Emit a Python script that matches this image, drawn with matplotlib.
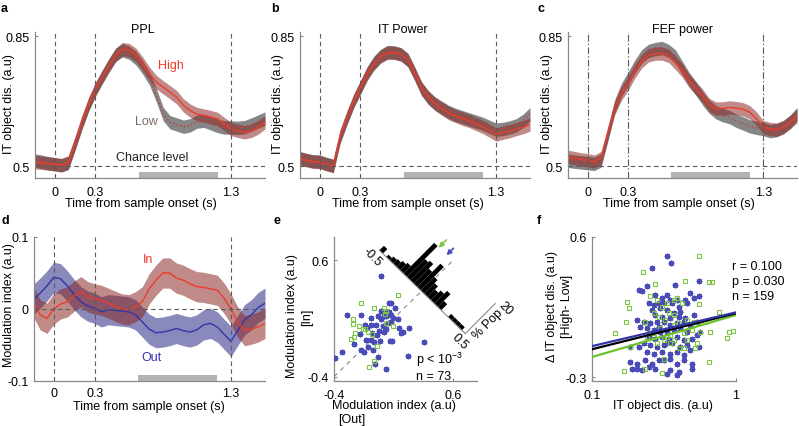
import numpy as np
import matplotlib
matplotlib.use("Agg")
import matplotlib.pyplot as plt
from matplotlib.transforms import Affine2D

plt.rcParams['font.family'] = ['Liberation Sans', 'DejaVu Sans']
plt.rcParams['font.size'] = 9
plt.rcParams['mathtext.fontset'] = 'custom'
plt.rcParams['mathtext.rm'] = 'Liberation Sans'
plt.rcParams['mathtext.default'] = 'rm'

# ---------------- data ----------------
time = np.round(np.arange(-0.15, 1.5501, 0.05), 2)
events = [0.0, 0.3, 1.3]
sig_window = [0.62, 1.20]
chance = 0.5

ppl_high = [0.511, 0.509, 0.507, 0.505, 0.503, 0.510, 0.562, 0.618, 0.667, 0.708, 0.739, 0.770,
            0.799, 0.815, 0.812, 0.799, 0.775, 0.748, 0.726, 0.712, 0.699, 0.685, 0.663, 0.649,
            0.640, 0.636, 0.632, 0.627, 0.613, 0.600, 0.595, 0.591, 0.595, 0.604, 0.618]
ppl_low = [0.515, 0.512, 0.508, 0.505, 0.502, 0.508, 0.560, 0.615, 0.665, 0.705, 0.740, 0.772,
           0.800, 0.812, 0.805, 0.790, 0.765, 0.735, 0.690, 0.640, 0.618, 0.612, 0.606, 0.610,
           0.620, 0.622, 0.615, 0.608, 0.604, 0.604, 0.603, 0.605, 0.612, 0.620, 0.628]
itp_high = [0.520, 0.516, 0.512, 0.511, 0.505, 0.500, 0.580, 0.630, 0.675, 0.711, 0.748, 0.776,
            0.795, 0.805, 0.805, 0.800, 0.786, 0.750, 0.710, 0.686, 0.668, 0.655, 0.643, 0.635,
            0.628, 0.622, 0.614, 0.606, 0.596, 0.585, 0.590, 0.594, 0.600, 0.605, 0.612]
itp_low = [0.522, 0.517, 0.513, 0.512, 0.506, 0.501, 0.578, 0.628, 0.674, 0.712, 0.750, 0.778,
           0.797, 0.807, 0.806, 0.801, 0.785, 0.748, 0.708, 0.684, 0.668, 0.657, 0.646, 0.638,
           0.632, 0.626, 0.620, 0.614, 0.606, 0.598, 0.600, 0.604, 0.610, 0.622, 0.640]
fef_high = [0.525, 0.522, 0.518, 0.516, 0.512, 0.522, 0.590, 0.655, 0.695, 0.722, 0.755, 0.782,
            0.798, 0.803, 0.803, 0.797, 0.778, 0.758, 0.730, 0.710, 0.690, 0.665, 0.655, 0.655,
            0.658, 0.656, 0.653, 0.645, 0.628, 0.605, 0.600, 0.598, 0.605, 0.618, 0.635]
fef_low = [0.515, 0.512, 0.510, 0.508, 0.506, 0.515, 0.585, 0.660, 0.705, 0.735, 0.768, 0.795,
           0.810, 0.815, 0.818, 0.810, 0.795, 0.765, 0.735, 0.710, 0.683, 0.660, 0.645, 0.637,
           0.632, 0.622, 0.615, 0.607, 0.603, 0.600, 0.594, 0.597, 0.605, 0.620, 0.640]
sem_dis = 0.018

mod_in = [0.010, -0.008, -0.013, 0.000, 0.007, 0.010, 0.018, 0.024, 0.017, 0.014, 0.012, 0.008,
          0.004, 0.000, -0.001, 0.003, 0.010, 0.028, 0.040, 0.050, 0.050, 0.043, 0.040, 0.035,
          0.031, 0.030, 0.028, 0.026, 0.015, 0.000, -0.018, -0.030, -0.028, -0.025, -0.020]
mod_out = [0.013, 0.022, 0.032, 0.044, 0.042, 0.032, 0.020, 0.010, 0.004, 0.001, -0.004, -0.001,
           -0.002, -0.003, -0.004, -0.008, -0.018, -0.028, -0.033, -0.032, -0.030, -0.027, -0.030,
           -0.032, -0.029, -0.022, -0.020, -0.025, -0.035, -0.045, -0.030, -0.015, -0.008, 0.002, 0.008]
sem_mod = 0.021

# panel e: modulation index [Out] vs [In]
e_blue = [(-0.008, 0.465), (-0.394, -0.237), (-0.333, -0.190), (-0.288, 0.127), (-0.170, 0.127),
          (-0.092, 0.107), (-0.140, 0.041), (-0.182, -0.030), (-0.176, -0.174), (-0.148, -0.188),
          (-0.134, -0.088), (-0.078, -0.022), (-0.064, -0.102), (-0.050, 0.041), (-0.008, 0.164),
          (-0.008, 0.093), (0.015, 0.036), (0.034, 0.121), (0.062, 0.236), (0.082, 0.236),
          (0.062, 0.156), (0.043, 0.156), (0.082, 0.127), (0.110, 0.193), (0.141, 0.099),
          (0.099, 0.107), (0.076, 0.070), (0.034, 0.013), (-0.022, -0.007), (-0.041, -0.044),
          (-0.086, -0.088), (-0.111, -0.142), (-0.069, -0.171), (-0.120, 0.021), (-0.027, -0.231),
          (-0.055, -0.288), (0.020, -0.016), (0.071, -0.093), (0.090, -0.093), (0.160, -0.022),
          (0.183, -0.016), (0.230, 0.021), (0.146, 0.021), (0.054, 0.058), (0.356, -0.102),
          (0.222, -0.222), (0.040, -0.331), (-0.013, -0.093), (0.020, 0.121), (-0.086, 0.045),
          (-0.027, 0.121), (-0.232, -0.122)]
e_green = [(0.138, 0.302), (-0.176, 0.236), (-0.064, 0.193), (0.020, 0.187), (0.034, 0.164),
           (0.029, 0.136), (-0.238, 0.093), (-0.240, 0.050), (-0.190, 0.036), (-0.154, 0.013),
           (-0.142, 0.007), (-0.226, -0.022), (-0.232, -0.059), (-0.254, -0.079), (-0.114, -0.016),
           (-0.078, -0.036), (-0.036, -0.136), (-0.064, -0.265), (-0.106, -0.317), (0.034, 0.064),
           (0.099, 0.036)]
e_blue_out, e_blue_in = zip(*e_blue)
e_green_out, e_green_in = zip(*e_green)

hist_centers = [-0.48, -0.44, -0.40, -0.36, -0.32, -0.28, -0.24, -0.20, -0.16, -0.12, -0.08, -0.04,
                0.00, 0.04, 0.08, 0.12, 0.16, 0.20, 0.24, 0.28, 0.32, 0.36, 0.40, 0.44, 0.48]
hist_pct = [3.0, 0.0, 1.5, 2.5, 3.0, 4.0, 5.0, 20.5, 12.0, 13.0, 10.0, 15.5,
            9.0, 7.0, 5.0, 6.5, 8.5, 4.0, 0.0, 0.0, 2.0, 2.0, 2.0, 2.0, 0.0]
hist_width = 0.04
mean_diff_green = -0.165
mean_diff_blue = -0.074
e_stats = [r'p < 10$^{-3}$', 'n = 73']

# panel f: IT object discrimination vs delta
f_blue = [(0.330, 0.477), (0.354, 0.434), (0.261, 0.401), (0.379, 0.293), (0.550, 0.315),
          (0.211, 0.257), (0.222, 0.250), (0.241, 0.283), (0.276, 0.229), (0.306, 0.207),
          (0.332, 0.229), (0.350, 0.196), (0.389, 0.196), (0.445, 0.196), (0.482, 0.240),
          (0.508, 0.207), (0.550, 0.218), (0.247, 0.175), (0.271, 0.164), (0.290, 0.175),
          (0.315, 0.175), (0.360, 0.175), (0.400, 0.153), (0.457, 0.175), (0.261, 0.132),
          (0.298, 0.142), (0.332, 0.132), (0.369, 0.110), (0.410, 0.120), (0.276, 0.100),
          (0.306, 0.089), (0.350, 0.078), (0.400, 0.089), (0.445, 0.078), (0.508, 0.100),
          (0.205, 0.067), (0.229, 0.056), (0.254, 0.045), (0.283, 0.056), (0.315, 0.056),
          (0.350, 0.035), (0.389, 0.045), (0.433, 0.056), (0.482, 0.035), (0.536, 0.056),
          (0.217, 0.024), (0.241, 0.013), (0.268, 0.002), (0.298, -0.008), (0.332, -0.008),
          (0.369, 0.002), (0.410, 0.013), (0.457, -0.008), (0.565, -0.008), (0.247, -0.041),
          (0.276, -0.052), (0.306, -0.041), (0.341, -0.052), (0.389, -0.041), (0.433, -0.063),
          (0.495, -0.052), (0.536, -0.030), (0.229, -0.084), (0.254, -0.095), (0.283, -0.106),
          (0.315, -0.095), (0.360, -0.084), (0.410, -0.106), (0.457, -0.095), (0.241, -0.138),
          (0.268, -0.149), (0.306, -0.138), (0.350, -0.149), (0.389, -0.138), (0.433, -0.160),
          (0.482, -0.127), (0.550, -0.106), (0.185, -0.203), (0.205, -0.214), (0.235, -0.192),
          (0.261, -0.214), (0.290, -0.192), (0.315, -0.192), (0.350, -0.181), (0.389, -0.214),
          (0.433, -0.192), (0.495, -0.214), (0.190, -0.246), (0.205, -0.246), (0.222, -0.257),
          (0.247, -0.235), (0.276, -0.246), (0.350, -0.257), (0.400, -0.268), (0.495, -0.246),
          (0.389, -0.289), (0.332, -0.278), (0.211, -0.106), (0.185, -0.106), (0.290, 0.024),
          (0.332, -0.084)]
f_green = [(0.550, 0.481), (0.226, 0.376), (0.276, 0.300), (0.445, 0.315), (0.645, 0.311),
           (0.680, 0.311), (0.175, 0.181), (0.180, 0.142), (0.173, 0.056), (0.235, 0.052),
           (0.145, -0.015), (0.183, -0.106), (0.254, 0.218), (0.283, 0.196), (0.306, 0.153),
           (0.332, 0.175), (0.369, 0.196), (0.389, 0.207), (0.421, 0.175), (0.550, 0.171),
           (0.268, 0.110), (0.290, 0.089), (0.341, 0.110), (0.369, 0.100), (0.323, 0.067),
           (0.400, 0.045), (0.457, 0.067), (0.508, 0.056), (0.550, 0.045), (0.612, 0.056),
           (0.759, 0.119), (0.662, -0.008), (0.565, -0.013), (0.495, 0.002), (0.890, -0.008),
           (0.952, -0.006), (0.866, -0.047), (0.315, -0.063), (0.332, -0.041), (0.350, -0.084),
           (0.400, -0.110), (0.433, -0.110), (0.522, -0.110), (0.536, -0.084), (0.241, -0.041),
           (0.315, -0.181), (0.645, -0.205), (0.235, -0.250), (0.166, -0.263), (0.306, -0.274),
           (0.247, -0.019), (0.268, -0.041), (0.369, -0.063), (0.283, -0.084), (0.433, -0.019),
           (0.350, -0.030), (0.298, 0.013), (0.369, 0.035), (0.457, -0.063)]
f_blue_x, f_blue_y = zip(*f_blue)
f_green_x, f_green_y = zip(*f_green)
fit_x = [0.1, 1.0]
fit_blue = [-0.101, 0.116]
fit_all = [-0.121, 0.110]
fit_green = [-0.171, 0.099]
f_stats = ['r = 0.100', 'p = 0.030', 'n = 159']

# ---------------- style ----------------
RED = '#ee3b2c'
RED_BAND = '#8b2a25'
GRAY_BAND = '#3c3c3c'
BLUE = '#3434aa'
BLUE_BAND = '#3b3b8f'
SCAT_BLUE = '#4b4bb8'
SCAT_GREEN = '#7cc644'
SPINE = '#8a8a8a'
DASH = '#5a5a5a'

W, H = 799, 427
fig = plt.figure(figsize=(W / 100, H / 100), dpi=100)


def add_ax(l, t, r, b):
    return fig.add_axes([l / W, 1 - b / H, (r - l) / W, (b - t) / H])


def fxy(x, y):
    return x / W, 1 - y / H


def style(ax, xpad=5.5):
    for s in ['top', 'right']:
        ax.spines[s].set_visible(False)
    for s in ['left', 'bottom']:
        ax.spines[s].set_color(SPINE)
        ax.spines[s].set_linewidth(0.9)
    ax.tick_params(direction='in', length=2.5, width=0.8, color=SPINE, labelsize=9)
    ax.tick_params(axis='x', pad=xpad)
    ax.tick_params(axis='y', pad=4)
    ax.minorticks_off()


def set_ylab(ax, text, x, y):
    ax.set_ylabel(text, linespacing=1.35)
    ax.yaxis.label.set(va='center', ha='center')
    ax.yaxis.set_label_coords(*fxy(x, y), transform=fig.transFigure)


def set_xlab(ax, text, x, y):
    ax.set_xlabel(text)
    ax.xaxis.label.set(va='center', ha='center')
    ax.xaxis.set_label_coords(*fxy(x, y), transform=fig.transFigure)


def letter(ch, x, y):
    fig.text(*fxy(x, y), ch, fontsize=9, fontweight='bold', ha='left', va='center')


def time_panel(ax, hi, lo, title, tx, vdash):
    hi = np.asarray(hi)
    lo = np.asarray(lo)
    ax.fill_between(time, lo - sem_dis, lo + sem_dis, color=GRAY_BAND, alpha=0.62, lw=0)
    ax.fill_between(time, hi - sem_dis, hi + sem_dis, color=RED_BAND, alpha=0.55, lw=0)
    ax.plot(time, lo, ':', color='#c43a30', lw=1.0)
    ax.plot(time, hi, '-', color=RED, lw=1.0)
    for t0 in events:
        ax.axvline(t0, color=DASH, lw=0.8, dashes=vdash)
    ax.axhline(chance, color=DASH, lw=0.8, dashes=(4, 3))
    ax.axvspan(sig_window[0], sig_window[1], ymin=0, ymax=0.042, color='#b3b3b3', lw=0)
    ax.set_xlim(-0.145, 1.55)
    ax.set_ylim(0.468, 0.861)
    ax.set_xticks([0, 0.3, 1.3], ['0', '0.3', '1.3'])
    ax.set_yticks([0.5, 0.85], ['0.5', '0.85'])
    ax.set_title(title, x=tx, y=1.02, pad=0, va='center', fontsize=9)
    style(ax)


# ---- a ----
ax_a = add_ax(35, 33, 265, 179)
time_panel(ax_a, ppl_high, ppl_low, 'PPL', 0.47, (4, 3))
ax_a.text(0.86, 0.772, 'High', color=RED, ha='center', va='center')
ax_a.text(0.675, 0.621, 'Low', color='#7d6b63', ha='center', va='center')
ax_a.text(0.72, 0.524, 'Chance level', color='#222222', ha='center', va='center')
set_ylab(ax_a, 'IT object dis. (a.u)', 9, 104)
set_xlab(ax_a, 'Time from sample onset (s)', 141, 204)
letter('a', 1, 9)

# ---- b ----
ax_b = add_ax(300, 33, 530, 179)
time_panel(ax_b, itp_high, itp_low, 'IT Power', 0.448, (4, 3))
set_ylab(ax_b, 'IT object dis. (a.u)', 278, 104)
set_xlab(ax_b, 'Time from sample onset (s)', 408, 204)
letter('b', 271, 9)

# ---- c ----
ax_c = add_ax(568, 33, 797, 179)
time_panel(ax_c, fef_high, fef_low, 'FEF power', 0.5, (6, 2, 1.2, 2))
set_ylab(ax_c, 'IT object dis. (a.u)', 547, 104)
set_xlab(ax_c, 'Time from sample onset (s)', 679, 204)
letter('c', 537, 9)

# ---- d ----
ax_d = add_ax(34, 238, 265, 382)
mi = np.asarray(mod_in)
mo = np.asarray(mod_out)
ax_d.fill_between(time, mo - sem_mod, mo + sem_mod, color=BLUE_BAND, alpha=0.6, lw=0)
ax_d.fill_between(time, mi - sem_mod, mi + sem_mod, color=RED_BAND, alpha=0.55, lw=0)
ax_d.plot(time, mo, '-', color=BLUE, lw=1.0)
ax_d.plot(time, mi, '-', color=RED, lw=1.0)
for t0 in events:
    ax_d.axvline(t0, color=DASH, lw=0.8, dashes=(4, 3))
ax_d.axhline(0, color=DASH, lw=0.8, dashes=(4, 3))
ax_d.axvspan(sig_window[0], sig_window[1], ymin=0, ymax=0.042, color='#b3b3b3', lw=0)
ax_d.set_xlim(-0.145, 1.55)
ax_d.set_ylim(-0.1, 0.1)
ax_d.set_xticks([0, 0.3, 1.3], ['0', '0.3', '1.3'])
ax_d.set_yticks([-0.1, 0, 0.1], ['-0.1', '0', '0.1'])
ax_d.text(0.693, 0.069, 'In', color=RED, ha='center', va='center')
ax_d.text(0.715, -0.066, 'Out', color=BLUE, ha='center', va='center')
style(ax_d, xpad=4.0)
set_ylab(ax_d, 'Modulation index (a.u)', 9, 305)
set_xlab(ax_d, 'Time from sample onset (s)', 149, 407)
letter('d', 1, 221)

# ---- e ----
ax_e = add_ax(334, 238, 477, 382)
ax_e.plot([-0.4, 0.6], [-0.4, 0.6], color='#8a8a8a', lw=0.8, dashes=(4, 4), zorder=1)
ax_e.plot(e_blue_out, e_blue_in, ls='none', marker=(8, 2, 0), ms=4, mew=1.0, color=SCAT_BLUE, zorder=3)
ax_e.plot(e_green_out, e_green_in, ls='none', marker='s', ms=3.2, mew=0.8, mfc='none', mec=SCAT_GREEN, zorder=3)
# rotated histogram of the difference, along the anti-diagonal
T = Affine2D(np.array([[0.720, 0.0126, 0.341],
                       [-0.716, 0.0129, 0.328],
                       [0.0, 0.0, 1.0]])) + ax_e.transData
ax_e.bar(hist_centers, hist_pct, width=hist_width, color='black', lw=0, transform=T, clip_on=False, zorder=4)
ax_e.plot([-0.5, 0.5], [0, 0], color='#8a8a8a', lw=0.8, transform=T, clip_on=False, zorder=4)
ax_e.plot([0.5, 0.5], [0, 20], color='#8a8a8a', lw=0.8, transform=T, clip_on=False, zorder=4)
ax_e.annotate('', xy=(mean_diff_green, 20.3), xytext=(mean_diff_green, 25.5), xycoords=T, textcoords=T,
              arrowprops=dict(arrowstyle='-|>', color=SCAT_GREEN, lw=1.2, mutation_scale=7,
                              shrinkA=0, shrinkB=0), annotation_clip=False)
ax_e.annotate('', xy=(mean_diff_blue, 20.3), xytext=(mean_diff_blue, 25.0), xycoords=T, textcoords=T,
              arrowprops=dict(arrowstyle='-|>', color=SCAT_BLUE, lw=1.2, mutation_scale=7,
                              shrinkA=0, shrinkB=0), annotation_clip=False)
ax_e.text(-0.51, -4.5, '-0.5', transform=T, rotation=-45, ha='center', va='center', fontsize=9)
ax_e.text(0.51, -4.5, '0.5', transform=T, rotation=-45, ha='center', va='center', fontsize=9)
ax_e.text(0.575, 10.5, '% Pop', transform=T, rotation=45, ha='center', va='center', fontsize=9)
ax_e.text(0.585, 22.0, '20', transform=T, rotation=-45, ha='center', va='center', fontsize=9)
ax_e.text(0.29, -0.25, e_stats[0], ha='left', va='center', fontsize=9)
ax_e.text(0.29, -0.395, e_stats[1], ha='left', va='center', fontsize=9)
ax_e.set_xlim(-0.4, 0.8)
ax_e.set_ylim(-0.437, 0.8)
ax_e.set_xticks([-0.4, 0.6], ['-0.4', '0.6'])
ax_e.set_yticks([-0.4, 0.6], ['-0.4', '0.6'])
style(ax_e)
set_ylab(ax_e, 'Modulation index (a.u)', 291.5, 316)
fig.text(*fxy(307, 317), '[In]', rotation=90, ha='center', va='center', fontsize=9)
set_xlab(ax_e, 'Modulation index (a.u)', 394, 406)
fig.text(*fxy(352, 420), '[Out]', ha='center', va='center', fontsize=9)
letter('e', 273, 221)

# ---- f ----
ax_f = add_ax(592, 238, 736, 382)
ax_f.set_xscale('log')
ax_f.plot(f_blue_x, f_blue_y, ls='none', marker=(8, 2, 0), ms=4, mew=1.0, color=SCAT_BLUE, zorder=2)
ax_f.plot(f_green_x, f_green_y, ls='none', marker='s', ms=3.2, mew=0.8, mfc='none', mec=SCAT_GREEN, zorder=2)
ax_f.plot(fit_x, fit_green, color='#6cc22a', lw=1.6, zorder=3)
ax_f.plot(fit_x, fit_all, color='black', lw=1.6, zorder=3)
ax_f.plot(fit_x, fit_blue, color=BLUE, lw=1.6, zorder=3)
ax_f.set_xlim(0.1, 1.0)
ax_f.set_ylim(-0.325, 0.6)
ax_f.set_xticks([0.1, 1.0], ['0.1', '1'])
ax_f.set_yticks([-0.3, 0.6], ['-0.3', '0.6'])
for i, s in enumerate(f_stats):
    ax_f.text(0.972, 0.80 - i * 0.104, s, transform=ax_f.transAxes, ha='left', va='center', fontsize=9)
style(ax_f)
ax_f.minorticks_off()
set_ylab(ax_f, '\u0394 IT object dis. (a.u)\n[High- Low]', 559.5, 306)
set_xlab(ax_f, 'IT object dis. (a.u)', 663, 406)
letter('f', 537, 221)

fig.savefig('out.png', dpi=100)
